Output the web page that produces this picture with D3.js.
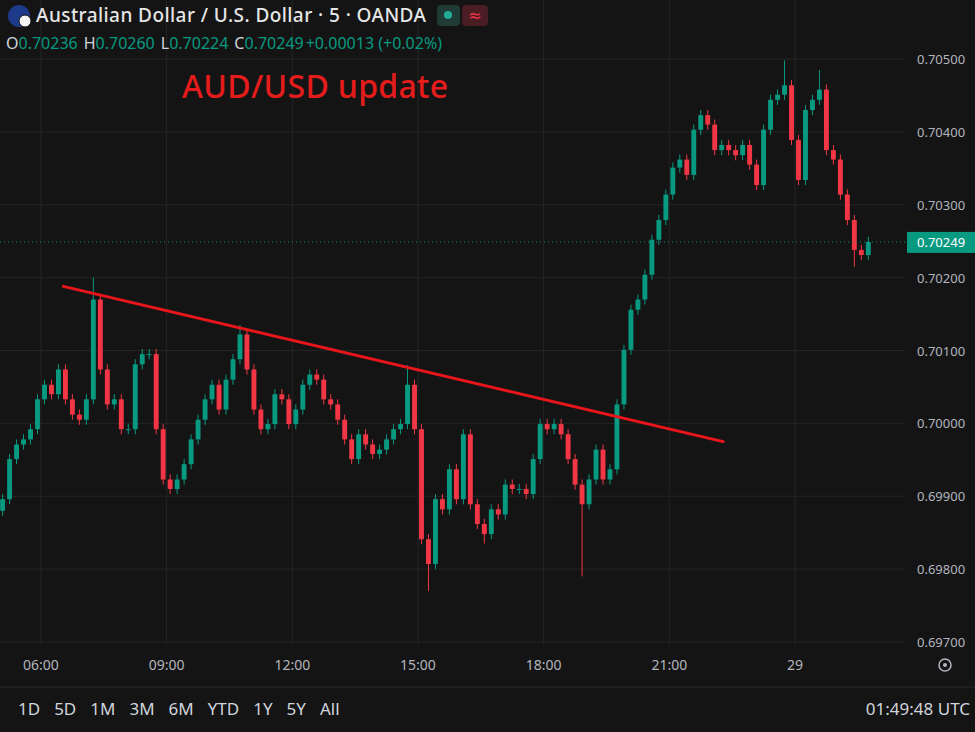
<!DOCTYPE html>
<html lang="en">
<head>
<meta charset="UTF-8">
<title>AUD/USD 5m</title>
<script src="https://d3js.org/d3.v7.min.js"></script>
<style>
  body { margin: 0; background: #141414; }
  svg { display: block; font-family: "Noto Sans", "DejaVu Sans", sans-serif; }
</style>
</head>
<body>
<svg width="975" height="732"></svg>
<script>
// closes of 10-minute candles, starting 05:05
const startTime = new Date(Date.UTC(2024, 0, 28, 5, 5));
const stepMin = 10;
const closes = [
  0.69896, 0.69951, 0.69971, 0.69978, 0.69992, 0.70033, 0.70053, 0.70040, 0.70074, 0.70033,
  0.70012, 0.70005, 0.70033, 0.70170, 0.70074, 0.70026, 0.70033, 0.69992, 0.69992, 0.70081,
  0.70095, 0.70095, 0.69992, 0.69923, 0.69910, 0.69923, 0.69944, 0.69978, 0.70005, 0.70033,
  0.70053, 0.70019, 0.70060, 0.70088, 0.70122, 0.70074, 0.70019, 0.69992, 0.69999, 0.70040,
  0.70033, 0.69999, 0.70019, 0.70053, 0.70067, 0.70060, 0.70033, 0.70026, 0.70005, 0.69978,
  0.69951, 0.69985, 0.69971, 0.69958, 0.69964, 0.69978, 0.69992, 0.69999, 0.70053, 0.69992,
  0.69841, 0.69807, 0.69896, 0.69882, 0.69937, 0.69896, 0.69985, 0.69889, 0.69862, 0.69848,
  0.69882, 0.69875, 0.69916, 0.69910, 0.69910, 0.69903, 0.69951, 0.69999, 0.69992, 0.69999,
  0.69985, 0.69951, 0.69916, 0.69889, 0.69923, 0.69964, 0.69923, 0.69937, 0.70026, 0.70101,
  0.70156, 0.70170, 0.70204, 0.70252, 0.70279, 0.70314, 0.70351, 0.70362, 0.70341, 0.70403,
  0.70423, 0.70410, 0.70375, 0.70382, 0.70375, 0.70368, 0.70382, 0.70355, 0.70327, 0.70403,
  0.70444, 0.70451, 0.70464, 0.70389, 0.70334, 0.70430, 0.70444, 0.70458, 0.70375, 0.70362,
  0.70314, 0.70279, 0.70238, 0.70231, 0.70249
];
const firstOpen = 0.69880;
const wickPad = 0.00007;
const highSpikes = [[13, 0.70200], [34, 0.70135], [58, 0.70080], [100, 0.70430], [112, 0.70498], [117, 0.70485]];
const lowSpikes = [[61, 0.69770], [83, 0.69790], [69, 0.69835], [122, 0.70215]];
const priceTicks = [0.697, 0.698, 0.699, 0.700, 0.701, 0.702, 0.703, 0.704, 0.705];
const timeTicks = [
  [Date.UTC(2024, 0, 28, 6), "06:00"], [Date.UTC(2024, 0, 28, 9), "09:00"],
  [Date.UTC(2024, 0, 28, 12), "12:00"], [Date.UTC(2024, 0, 28, 15), "15:00"],
  [Date.UTC(2024, 0, 28, 18), "18:00"], [Date.UTC(2024, 0, 28, 21), "21:00"],
  [Date.UTC(2024, 0, 29, 0), "29"]
];
const trendLine = [[Date.UTC(2024, 0, 28, 6, 32), 0.70188], [Date.UTC(2024, 0, 28, 22, 17), 0.69975]];
const lastPrice = 0.70249;
const ranges = ["1D", "5D", "1M", "3M", "6M", "YTD", "1Y", "5Y", "All"];

const candles = closes.map((c, i) => {
  const o = i === 0 ? firstOpen : closes[i - 1];
  let h = Math.max(o, c) + wickPad, l = Math.min(o, c) - wickPad;
  highSpikes.forEach(([k, v]) => { if (k === i) h = v; });
  lowSpikes.forEach(([k, v]) => { if (k === i) l = v; });
  return { t: new Date(+startTime + i * stepMin * 60000), o, h, l, c };
});

const svg = d3.select("svg");
const plotRight = 905, plotBottom = 645;
const x = d3.scaleUtc()
  .domain([Date.UTC(2024, 0, 28, 6), Date.UTC(2024, 0, 29, 0)])
  .range([41, 795]);
const y = d3.scaleLinear().domain([0.697, 0.705]).range([642, 59]);
const up = "#089981", down = "#f23645";

svg.append("rect").attr("width", 975).attr("height", 732).attr("fill", "#141414");

// grid
svg.append("g").selectAll("line").data(priceTicks).join("line")
  .attr("x1", 0).attr("x2", plotRight).attr("y1", d => y(d)).attr("y2", d => y(d))
  .attr("stroke", "#242424");
svg.append("g").selectAll("line").data(timeTicks).join("line")
  .attr("x1", d => x(d[0])).attr("x2", d => x(d[0])).attr("y1", 0).attr("y2", plotBottom)
  .attr("stroke", "#242424");

// candles
const cw = (x(+startTime + stepMin * 60000) - x(startTime)) * 0.7;
const g = svg.append("g");
g.selectAll("line").data(candles).join("line")
  .attr("x1", d => x(d.t)).attr("x2", d => x(d.t))
  .attr("y1", d => y(d.h)).attr("y2", d => y(d.l))
  .attr("stroke", d => d.c >= d.o ? up : down);
g.selectAll("rect").data(candles).join("rect")
  .attr("x", d => x(d.t) - cw / 2).attr("width", cw)
  .attr("y", d => y(Math.max(d.o, d.c)))
  .attr("height", d => Math.max(1, Math.abs(y(d.o) - y(d.c))))
  .attr("fill", d => d.c >= d.o ? up : down);

// current price line
svg.append("line").attr("x1", 0).attr("x2", plotRight)
  .attr("y1", y(lastPrice)).attr("y2", y(lastPrice))
  .attr("stroke", up).attr("stroke-dasharray", "1,3");

// trend line
svg.append("line")
  .attr("x1", x(trendLine[0][0])).attr("y1", y(trendLine[0][1]))
  .attr("x2", x(trendLine[1][0])).attr("y2", y(trendLine[1][1]))
  .attr("stroke", "#e8151b").attr("stroke-width", 3).attr("stroke-linecap", "round");

// price axis
svg.append("g").selectAll("text").data(priceTicks).join("text")
  .attr("x", 917).attr("y", d => y(d) + 5)
  .attr("fill", "#b2b5be").attr("font-size", 13).text(d => d.toFixed(5));
svg.append("rect").attr("x", 907).attr("y", y(lastPrice) - 10).attr("width", 68).attr("height", 21)
  .attr("fill", up);
svg.append("text").attr("x", 917).attr("y", y(lastPrice) + 5)
  .attr("fill", "#fff").attr("font-size", 13).text(lastPrice.toFixed(5));

// time axis
svg.append("g").selectAll("text").data(timeTicks).join("text")
  .attr("x", d => x(d[0])).attr("y", 670).attr("text-anchor", "middle")
  .attr("fill", "#b2b5be").attr("font-size", 14).text(d => d[1]);
svg.append("circle").attr("cx", 945).attr("cy", 665).attr("r", 6)
  .attr("fill", "none").attr("stroke", "#b2b5be").attr("stroke-width", 1.5);
svg.append("circle").attr("cx", 945).attr("cy", 665).attr("r", 2).attr("fill", "#b2b5be");

// bottom bar
svg.append("line").attr("x1", 0).attr("x2", 975).attr("y1", 687).attr("y2", 687).attr("stroke", "#2a2a2a");
let bx = 18;
ranges.forEach(r => {
  const t = svg.append("text").attr("x", bx).attr("y", 715).attr("fill", "#d1d4dc")
    .attr("font-size", 17).text(r);
  bx += t.node().getComputedTextLength() + 14;
});
svg.append("text").attr("x", 970).attr("y", 715).attr("text-anchor", "end")
  .attr("fill", "#d1d4dc").attr("font-size", 17).text("01:49:48 UTC");

// header
svg.append("circle").attr("cx", 19).attr("cy", 16).attr("r", 11).attr("fill", "#1e3a8a");
svg.append("circle").attr("cx", 25).attr("cy", 21).attr("r", 6).attr("fill", "#f5f5f5").attr("stroke", "#141414");
svg.append("text").attr("x", 36).attr("y", 22).attr("fill", "#e6e6e6").attr("font-size", 19)
  .attr("font-weight", 500).attr("textLength", 390).text("Australian Dollar / U.S. Dollar · 5 · OANDA");
svg.append("rect").attr("x", 437).attr("y", 5).attr("width", 23).attr("height", 21).attr("rx", 4).attr("fill", "#1f3b35");
svg.append("circle").attr("cx", 448).attr("cy", 15).attr("r", 4).attr("fill", "#22ab94");
svg.append("rect").attr("x", 462).attr("y", 5).attr("width", 26).attr("height", 21).attr("rx", 4).attr("fill", "#4a1c24");
svg.append("text").attr("x", 475).attr("y", 21).attr("text-anchor", "middle").attr("fill", "#f23645")
  .attr("font-size", 16).text("≈");

const ohlc = svg.append("text").attr("x", 6).attr("y", 49).attr("font-size", 16);
[["O", "0.70236"], ["H", "0.70260"], ["L", "0.70224"], ["C", "0.70249"], ["", "+0.00013 (+0.02%)"]]
  .forEach(([k, v], i) => {
    ohlc.append("tspan").attr("fill", "#d1d4dc").attr("dx", i ? 6 : 0).text(k);
    ohlc.append("tspan").attr("fill", up).attr("dx", k ? 0 : 2).text(v);
  });

svg.append("text").attr("x", 182).attr("y", 98).attr("fill", "#e51c1c")
  .attr("font-size", 32).attr("font-weight", 500).attr("textLength", 266).text("AUD/USD update");
</script>
</body>
</html>
